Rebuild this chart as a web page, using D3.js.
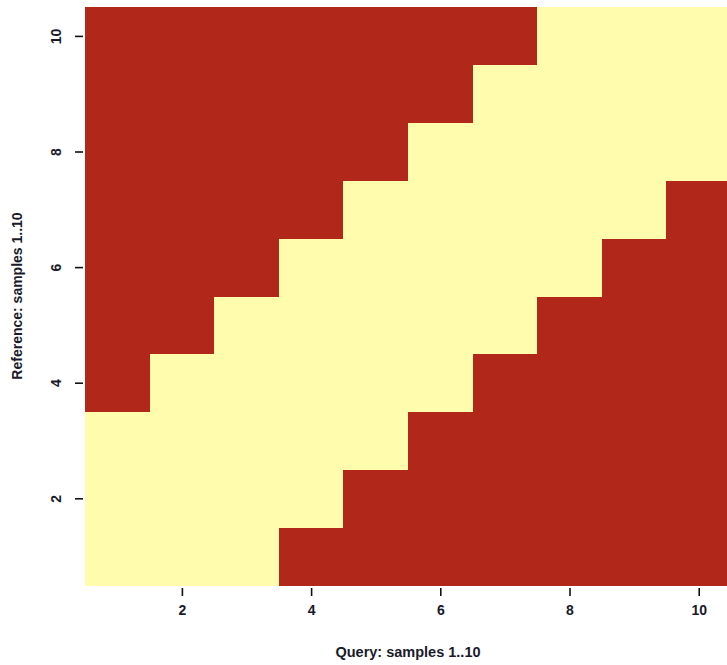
<!DOCTYPE html>
<html>
<head>
<meta charset="utf-8">
<script src="https://cdn.jsdelivr.net/npm/d3@7"></script>
<style>
  body { margin: 0; background: #ffffff; }
  svg { display: block; }
  text { font-family: "Liberation Sans", Arial, sans-serif; fill: #1a1a2a; }
</style>
</head>
<body>
<svg id="chart" width="727" height="665"></svg>
<script>
// Query samples (x) and reference samples (y)
const querySamples = [1, 2, 3, 4, 5, 6, 7, 8, 9, 10];
const referenceSamples = [1, 2, 3, 4, 5, 6, 7, 8, 9, 10];
// Match matrix: rows = reference 1..10, columns = query 1..10 (1 = match / light, 0 = no match / dark)
const ref1  = [1, 1, 1, 0, 0, 0, 0, 0, 0, 0];
const ref2  = [1, 1, 1, 1, 0, 0, 0, 0, 0, 0];
const ref3  = [1, 1, 1, 1, 1, 0, 0, 0, 0, 0];
const ref4  = [0, 1, 1, 1, 1, 1, 0, 0, 0, 0];
const ref5  = [0, 0, 1, 1, 1, 1, 1, 0, 0, 0];
const ref6  = [0, 0, 0, 1, 1, 1, 1, 1, 0, 0];
const ref7  = [0, 0, 0, 0, 1, 1, 1, 1, 1, 0];
const ref8  = [0, 0, 0, 0, 0, 1, 1, 1, 1, 1];
const ref9  = [0, 0, 0, 0, 0, 0, 1, 1, 1, 1];
const ref10 = [0, 0, 0, 0, 0, 0, 0, 1, 1, 1];
const matrixRows = [ref1, ref2, ref3, ref4, ref5, ref6, ref7, ref8, ref9, ref10];
const xTicks = [2, 4, 6, 8, 10];
const yTicks = [2, 4, 6, 8, 10];
const xTitle = "Query: samples 1..10";
const yTitle = "Reference: samples 1..10";

(function () {
const cells = [];
matrixRows.forEach((row, ri) => row.forEach((v, qi) => cells.push({q: querySamples[qi], r: referenceSamples[ri], v})));

const svg = d3.select("#chart");
const pLeft = 85, pRight = 731, pTop = 7, pBottom = 585;

const x = d3.scaleLinear().domain([0.5, 10.5]).range([pLeft, pRight]);
const y = d3.scaleLinear().domain([0.5, 10.5]).range([pBottom, pTop]);
const color = d3.scaleOrdinal().domain([0, 1]).range(["#b1281a", "#fffcae"]);

svg.append("g").selectAll("rect").data(cells).join("rect")
  .attr("x", d => x(d.q - 0.5))
  .attr("y", d => y(d.r + 0.5))
  .attr("width", d => x(d.q + 0.5) - x(d.q - 0.5) + 0.5)
  .attr("height", d => y(d.r - 0.5) - y(d.r + 0.5) + 0.5)
  .attr("fill", d => color(d.v))
  .attr("shape-rendering", "crispEdges");

const xAxis = d3.axisBottom(x).tickValues(xTicks).tickSize(8).tickPadding(9).tickFormat(d3.format("d"));
const gx = svg.append("g").attr("transform", `translate(0,${pBottom + 3})`).call(xAxis);
gx.select(".domain").remove();
gx.selectAll(".tick line").attr("stroke", "#111").attr("stroke-width", 1.6);
gx.selectAll(".tick text").attr("font-size", 14).attr("font-weight", "bold").style("font-family", "'Liberation Sans', Arial, sans-serif").attr("fill", "#1a1a2a");

const yAxis = d3.axisLeft(y).tickValues(yTicks).tickSize(8).tickPadding(0).tickFormat(d3.format("d"));
const gy = svg.append("g").attr("transform", `translate(${pLeft - 2},0)`).call(yAxis);
gy.select(".domain").remove();
gy.selectAll(".tick line").attr("stroke", "#111").attr("stroke-width", 1.6);
gy.selectAll(".tick text")
  .attr("font-size", 14).attr("font-weight", "bold")
  .style("font-family", "'Liberation Sans', Arial, sans-serif").attr("fill", "#1a1a2a")
  .attr("x", 0).attr("dy", null)
  .attr("text-anchor", "middle")
  .attr("transform", "translate(-26,0) rotate(-90)")
  .attr("dominant-baseline", "middle");

svg.append("text")
  .attr("x", (pLeft + pRight) / 2).attr("y", 657)
  .attr("text-anchor", "middle")
  .attr("font-size", 14.5)
  .attr("font-weight", "bold")
  .text(xTitle);

svg.append("text")
  .attr("transform", `translate(22,${(pTop + pBottom) / 2}) rotate(-90)`)
  .attr("text-anchor", "middle")
  .attr("font-size", 14)
  .attr("font-weight", "bold")
  .text(yTitle);
})();
</script>
</body>
</html>
